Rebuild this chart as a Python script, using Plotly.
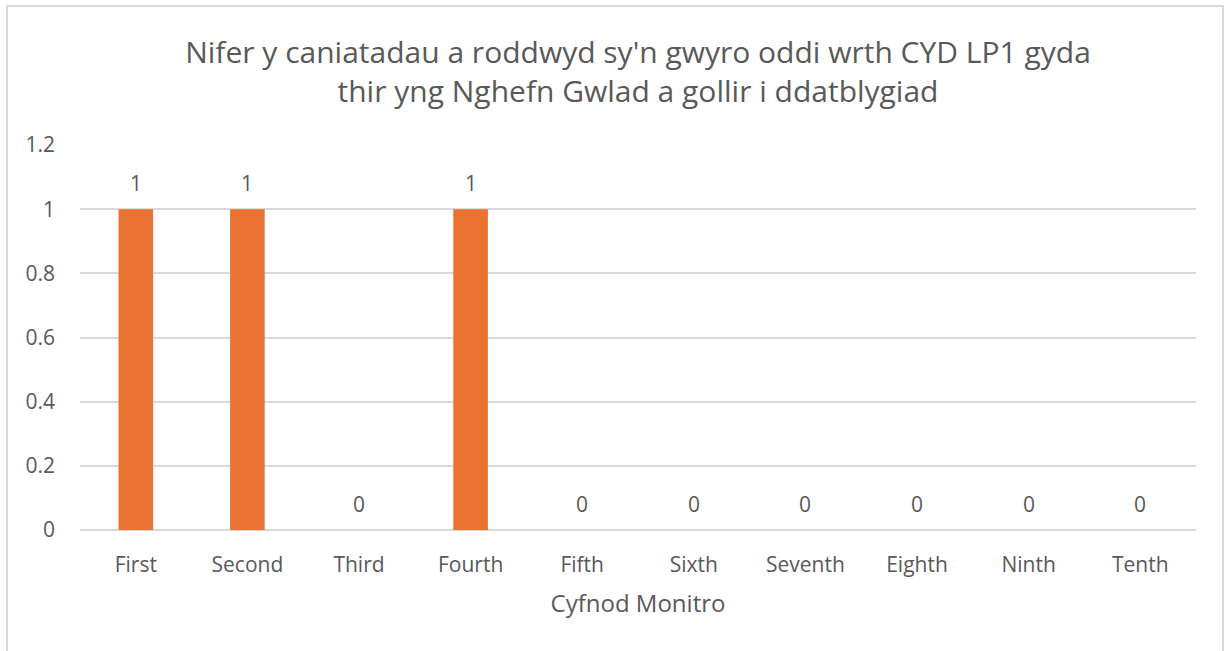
import plotly.graph_objects as go

categories = ["First", "Second", "Third", "Fourth", "Fifth", "Sixth", "Seventh", "Eighth", "Ninth", "Tenth"]
values = [1, 1, 0, 1, 0, 0, 0, 0, 0, 0]
y_ticks = [0, 0.2, 0.4, 0.6, 0.8, 1, 1.2]
y_tick_labels = ["0", "0.2", "0.4", "0.6", "0.8", "1", "1.2"]

title_text = "Nifer y caniatadau a roddwyd sy'n gwyro oddi wrth CYD LP1 gyda<br>thir yng Nghefn Gwlad a gollir i ddatblygiad"
x_title = "Cyfnod Monitro"

FONT = "Open Sans"
TXT = "#595959"
GRID = "#d9d9d9"

fig = go.Figure()
fig.add_trace(go.Bar(
    x=categories,
    y=values,
    marker=dict(color="#E97132", line=dict(width=0)),
    hoverinfo="x+y",
))

annotations = [
    dict(x=c, y=v, xref="x", yref="y", text=str(v), showarrow=False,
         yanchor="middle", yshift=26,
         font=dict(family=FONT, size=21, color=TXT))
    for c, v in zip(categories, values)
]

fig.update_layout(
    width=1225,
    height=651,
    paper_bgcolor="white",
    plot_bgcolor="white",
    margin=dict(l=80, r=29, t=145, b=121),
    bargap=0.69,
    showlegend=False,
    font=dict(family=FONT, color=TXT),
    title=dict(
        text=title_text,
        x=0.5, xanchor="center", xref="paper",
        y=1 - 63 / 651, yanchor="middle",
        font=dict(family=FONT, size=30, color=TXT),
    ),
    xaxis=dict(
        showgrid=False,
        showline=False,
        ticks="",
        ticklabelstandoff=20,
        tickfont=dict(family=FONT, size=21, color=TXT),
        title=dict(text=x_title, font=dict(family=FONT, size=24, color=TXT), standoff=18),
    ),
    yaxis=dict(
        range=[0, 1.2],
        tickvals=y_ticks,
        ticktext=y_tick_labels,
        showgrid=True,
        gridcolor=GRID,
        gridwidth=1.5,
        zeroline=True,
        zerolinecolor=GRID,
        zerolinewidth=1.5,
        showline=False,
        ticks="",
        ticklabelstandoff=24,
        tickfont=dict(family=FONT, size=21, color=TXT),
    ),
    annotations=annotations,
    shapes=[dict(
        type="rect", xref="paper", yref="paper",
        x0=-73 / 1116, x1=1143 / 1116,
        y0=-140 / 385, y1=524 / 385,
        line=dict(color=GRID, width=2),
        fillcolor="rgba(0,0,0,0)",
        layer="below",
    )],
)

fig.write_html("out.html", config={"displayModeBar": False},
               post_script="document.body.style.margin='0px';")
